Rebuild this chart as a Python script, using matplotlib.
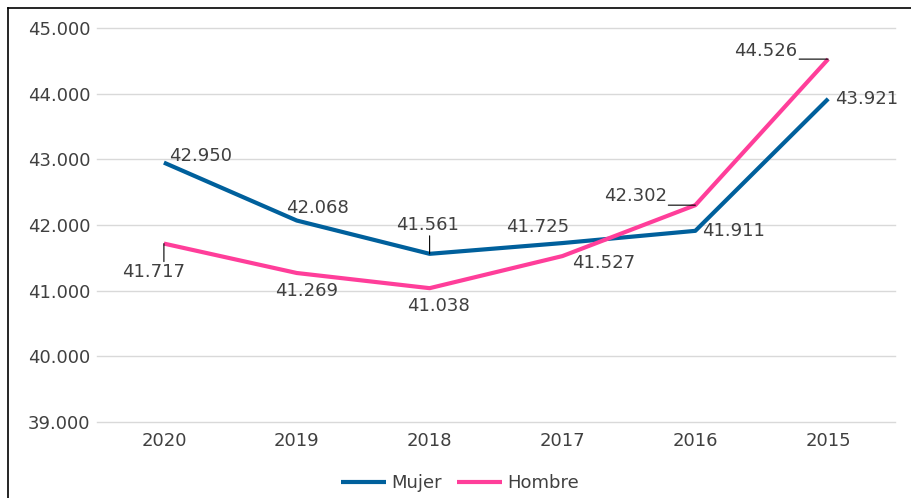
import matplotlib
matplotlib.use("Agg")
import matplotlib.pyplot as plt
from matplotlib.lines import Line2D
from matplotlib.ticker import FuncFormatter

# data
years = ["2020", "2019", "2018", "2017", "2016", "2015"]
mujer = [42950, 42068, 41561, 41725, 41911, 43921]
hombre = [41717, 41269, 41038, 41527, 42302, 44526]

# label offsets in pixels (dx right, dy up)
mujer_off = [(37, 7), (21, 13), (-2, 29), (-25, 16), (38, 0), (38, 0)]
hombre_off = [(-10, -28), (10, -18), (9, -18), (41, -7), (-60, 9), (-63, 8)]

blue = "#00609C"
pink = "#FF3E9A"
txt = "#404040"

plt.rcParams["font.family"] = "DejaVu Sans"

fig = plt.figure(figsize=(9.11, 4.98), dpi=100)
ax = fig.add_axes([0.107, 0.1526, 0.875, 0.7912])

x = list(range(len(years)))
ax.plot(x, mujer, color=blue, lw=3, label="Mujer", solid_capstyle="butt")
ax.plot(x, hombre, color=pink, lw=3, label="Hombre", solid_capstyle="butt")

px = 0.72  # pixel -> points


def fmt(v):
    return f"{v:,.0f}".replace(",", ".")


for i, v in enumerate(mujer):
    dx, dy = mujer_off[i]
    ax.annotate(fmt(v), (i, v), xytext=(dx * px, dy * px), textcoords="offset points",
                ha="center", va="center", fontsize=13, color=txt)
for i, v in enumerate(hombre):
    dx, dy = hombre_off[i]
    ax.annotate(fmt(v), (i, v), xytext=(dx * px, dy * px), textcoords="offset points",
                ha="center", va="center", fontsize=13, color=txt)

# leader lines
leaders = [(0, hombre[0], 0, -18), (2, mujer[2], 0, 18),
           (4, hombre[4], -27, 0), (5, hombre[5], -29, 0)]
for i, v, dx, dy in leaders:
    ax.annotate("", (i, v), xytext=(dx * px, dy * px), textcoords="offset points",
                arrowprops=dict(arrowstyle="-", color="black", lw=0.8, shrinkA=0, shrinkB=0))

ax.set_xlim(-0.5, len(years) - 0.5)
ax.set_ylim(39000, 45000)
ax.set_yticks(range(39000, 45001, 1000))
ax.yaxis.set_major_formatter(FuncFormatter(lambda v, p: fmt(v)))
ax.set_xticks(x)
ax.set_xticklabels(years)
ax.tick_params(axis="both", length=0, labelsize=13, labelcolor=txt)
ax.tick_params(axis="y", pad=5)
ax.tick_params(axis="x", pad=7)
ax.grid(axis="y", color="#d9d9d9", lw=1)
for gl in ax.get_ygridlines():
    gl.set_clip_on(False)
ax.set_axisbelow(True)
for s in ax.spines.values():
    s.set_visible(False)

leg = fig.legend(loc="center", bbox_to_anchor=(0.505, 1 - 483 / 498), ncol=2, frameon=False,
                 fontsize=13, handlelength=2.5, columnspacing=0.8, handletextpad=0.3)
for t in leg.get_texts():
    t.set_color(txt)

# outer frame (top and left edges visible)
W, H = 911, 498
fig.add_artist(Line2D([8 / W, 1], [1 - 8 / H, 1 - 8 / H], color="black", lw=1.2))
fig.add_artist(Line2D([8 / W, 8 / W], [0, 1 - 8 / H], color="black", lw=1.2))

fig.savefig("out.png", dpi=100)
